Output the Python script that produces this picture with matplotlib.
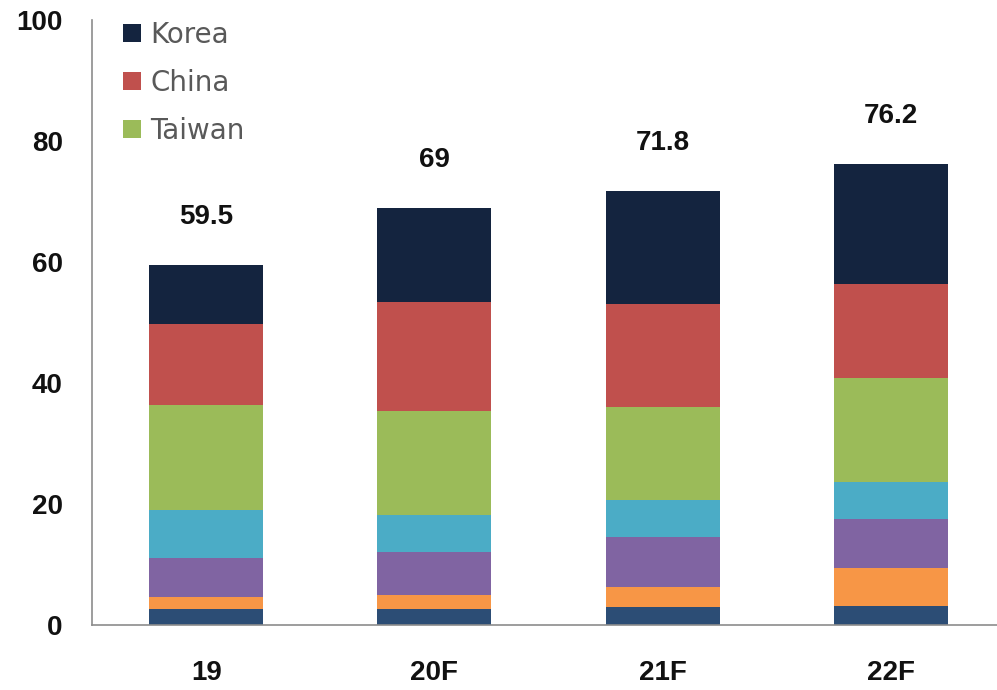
import matplotlib.pyplot as plt
import numpy as np

years = ["19", "20F", "21F", "22F"]
totals = [59.5, 69, 71.8, 76.2]

# stacked from bottom to top
seg_a = [2.6, 2.6, 2.9, 3.1]
seg_b = [2.1, 2.4, 3.4, 6.3]
seg_c = [6.4, 7.1, 8.2, 8.1]
seg_d = [7.9, 6.1, 6.2, 6.2]
taiwan = [17.3, 17.1, 15.3, 17.1]
china = [13.4, 18.1, 17.1, 15.6]
korea = [9.8, 15.6, 18.7, 19.8]

series = [
    (None, seg_a, "#2c4d75"),
    (None, seg_b, "#f79646"),
    (None, seg_c, "#8064a2"),
    (None, seg_d, "#4bacc6"),
    ("Taiwan", taiwan, "#9bbb59"),
    ("China", china, "#c0504d"),
    ("Korea", korea, "#14243f"),
]

plt.rcParams["font.family"] = ["Liberation Sans", "DejaVu Sans"]

fig = plt.figure(figsize=(9.97, 6.9), dpi=100)
ax = fig.add_axes([0.0923, 0.0942, 0.9077, 0.8768])

x = np.arange(len(years))
bottom = np.zeros(len(years))
handles = {}
for name, vals, color in series:
    bars = ax.bar(x, vals, width=0.5, bottom=bottom, color=color, linewidth=0)
    if name:
        handles[name] = bars
    bottom += np.array(vals)

for xi, t in zip(x, totals):
    ax.text(xi, t + 7.9, f"{t:g}", ha="center", va="center", fontsize=20, weight="bold", color="#111111")

ax.set_xlim(-0.5, 3.465)
ax.set_ylim(0, 100)
ax.set_yticks([0, 20, 40, 60, 80, 100])
ax.set_xticks(x)
ax.set_xticklabels(years)
ax.tick_params(axis="both", length=0, labelsize=20)
ax.tick_params(axis="y", pad=21)
ax.tick_params(axis="x", pad=25)
for lbl in ax.get_xticklabels() + ax.get_yticklabels():
    lbl.set_fontweight("bold")
    lbl.set_color("#111111")

for side in ["top", "right"]:
    ax.spines[side].set_visible(False)
for side in ["left", "bottom"]:
    ax.spines[side].set_color("#8c8c8c")
    ax.spines[side].set_linewidth(1.2)

order = ["Korea", "China", "Taiwan"]
leg = fig.legend(
    [handles[n] for n in order],
    order,
    loc="upper left",
    bbox_to_anchor=(0.109, 0.99),
    bbox_transform=fig.transFigure,
    frameon=False,
    borderpad=0,
    prop={"family": "DejaVu Sans", "size": 20},
    handlelength=0.65,
    handleheight=0.65,
    handletextpad=0.36,
    labelspacing=0.72,
)
for t in leg.get_texts():
    t.set_color("#595959")

fig.savefig("out.png", dpi=100)
